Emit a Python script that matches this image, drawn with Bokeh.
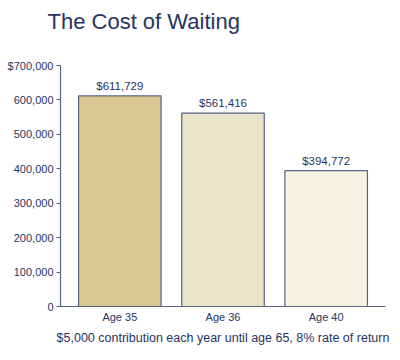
from bokeh.plotting import figure
from bokeh.models import ColumnDataSource, FactorRange, Range1d, FixedTicker, CustomJSTickFormatter, LabelSet, Title
from bokeh.core.properties import value
from bokeh.embed import file_html
from bokeh.resources import INLINE

categories = ["Age 35", "Age 36", "Age 40"]
values = [611729, 561416, 394772]
bar_colors = ["#dac894", "#ebe3ca", "#f6f2e2"]
value_labels = ["$611,729", "$561,416", "$394,772"]
y_ticks = [0, 100000, 200000, 300000, 400000, 500000, 600000, 700000]

navy = "#27345f"
FONT = "Liberation Sans"

src = ColumnDataSource(dict(cat=categories, val=values, color=bar_colors, lab=value_labels))

p = figure(width=400, height=360, output_backend="svg", toolbar_location=None,
           x_range=FactorRange(factors=categories, range_padding=0.05),
           y_range=Range1d(0, 700000),
           min_border_left=60, min_border_right=15, min_border_top=65, min_border_bottom=54)

p.vbar(x="cat", top="val", width=0.8, source=src, fill_color="color",
       line_color="#56637f", line_width=1.2)

labels = LabelSet(x="cat", y="val", text="lab", source=src, text_align="center",
                  text_baseline="bottom", y_offset=4, text_font_size="11.5px",
                  text_color=navy, text_font=value(FONT))
p.add_layout(labels)

# spacer between title and plot area
p.add_layout(Title(text=" ", text_font_size="22px", standoff=0), "above")

p.title.text = "The Cost of Waiting"
p.title.text_font = FONT
p.title.text_font_size = "22px"
p.title.text_font_style = "normal"
p.title.text_color = navy
p.title.align = "left"
p.title.offset = -13
p.title.standoff = 10

p.yaxis.ticker = FixedTicker(ticks=y_ticks)
p.yaxis.formatter = CustomJSTickFormatter(code="""
const s = tick.toLocaleString('en-US');
return tick == 700000 ? '$' + s : s;
""")
for ax in (p.xaxis, p.yaxis):
    ax.axis_line_color = "#56637f"
    ax.axis_line_width = 1.2
    ax.major_label_text_color = navy
    ax.major_label_text_font = FONT
    ax.major_label_text_font_size = "11px"
    ax.minor_tick_line_color = None
p.yaxis.major_tick_line_color = "#56637f"
p.yaxis.major_tick_in = 0
p.yaxis.major_tick_out = 4
p.yaxis.major_label_standoff = 3
p.xaxis.major_tick_line_color = None
p.xaxis.major_tick_in = 0
p.xaxis.major_tick_out = 0
p.xaxis.major_label_standoff = 4
p.xaxis.axis_label = "$5,000 contribution each year until age 65, 8% rate of return"
p.xaxis.axis_label_text_font = FONT
p.xaxis.axis_label_text_font_size = "12.5px"
p.xaxis.axis_label_text_font_style = "normal"
p.xaxis.axis_label_text_color = navy
p.xaxis.axis_label_standoff = 5

p.xgrid.grid_line_color = None
p.ygrid.grid_line_color = None
p.outline_line_color = None

open("out.html", "w").write(file_html(p, INLINE))
